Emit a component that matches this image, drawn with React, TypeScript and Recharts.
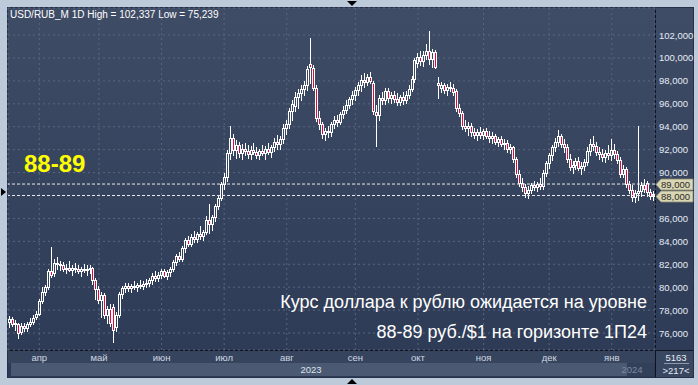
import React from 'react';
import { ComposedChart, Bar, XAxis, YAxis, CartesianGrid, ReferenceLine } from 'recharts';

// open, high, low, close
type Candle = [number, number, number, number];

const mar: Candle[] = [
  [77.0, 77.5, 76.5, 77.2], [77.2, 77.4, 76.6, 76.8], [76.8, 77.1, 76.3, 76.9], [76.8, 76.9, 75.6, 76.0],
  [76.1, 76.9, 75.9, 76.6], [76.6, 76.9, 76.2, 76.4], [76.4, 77.0, 76.2, 76.8], [76.8, 77.3, 76.6, 77.0],
  [77.0, 77.6, 76.8, 77.3], [77.4, 77.9, 77.2, 77.7],
];
const apr: Candle[] = [
  [77.7, 79.0, 77.6, 78.8], [78.8, 80.0, 78.6, 79.6], [79.6, 80.2, 79.3, 80.0], [80.0, 81.6, 79.8, 81.4],
  [81.4, 83.5, 80.9, 81.1], [81.2, 82.5, 81.0, 82.1], [82.1, 82.6, 81.6, 82.0], [82.0, 82.3, 81.5, 81.9],
  [81.9, 82.2, 81.4, 81.6], [81.6, 82.0, 81.2, 81.7], [81.7, 82.3, 81.4, 81.5], [81.5, 81.9, 81.1, 81.7],
  [81.7, 82.1, 81.3, 81.6], [81.6, 81.9, 81.2, 81.4], [81.4, 81.8, 81.0, 81.6], [81.6, 82.0, 81.3, 81.5],
  [81.5, 81.9, 81.1, 81.6], [81.6, 81.9, 81.2, 81.7], [81.7, 81.8, 80.3, 80.6], [80.6, 80.8, 79.0, 79.8],
];
const may: Candle[] = [
  [79.8, 80.1, 78.6, 78.9], [78.9, 79.6, 77.4, 79.3], [79.3, 79.5, 77.3, 77.6], [77.6, 78.4, 76.9, 78.1],
  [78.1, 78.5, 76.6, 76.9], [78.3, 78.5, 75.239, 76.3], [76.5, 77.8, 76.2, 77.6], [77.6, 79.6, 77.4, 79.4],
  [79.4, 80.1, 79.1, 79.9], [79.9, 80.4, 79.6, 80.1], [80.1, 80.4, 79.7, 79.9], [79.9, 80.3, 79.6, 80.1],
  [80.1, 80.5, 79.8, 80.0], [80.0, 80.4, 79.7, 80.2], [80.2, 80.6, 79.9, 80.1], [80.1, 80.5, 79.8, 80.3],
  [80.3, 80.7, 80.0, 80.4], [80.4, 80.8, 80.1, 80.6], [80.6, 81.2, 80.3, 81.0], [81.0, 81.4, 80.5, 80.8],
  [80.8, 81.3, 80.5, 81.1],
];
const jun: Candle[] = [
  [81.1, 81.6, 80.8, 81.4], [81.4, 81.6, 80.9, 81.0], [81.0, 81.5, 80.7, 81.3], [81.3, 81.8, 81.0, 81.6],
  [81.6, 82.4, 81.4, 82.2], [82.2, 82.9, 81.9, 82.7], [82.7, 83.1, 82.3, 82.5], [82.5, 83.6, 82.3, 83.4],
  [83.4, 84.3, 83.1, 84.1], [84.1, 84.5, 83.6, 83.8], [83.8, 84.6, 83.6, 84.4], [84.4, 84.9, 83.9, 84.2],
  [84.2, 84.8, 83.9, 84.6], [84.6, 85.3, 84.2, 84.5], [84.5, 85.0, 84.1, 84.8], [84.8, 86.2, 84.6, 85.9],
  [85.9, 87.3, 84.7, 85.5], [85.5, 86.3, 85.0, 86.1], [86.1, 87.3, 85.8, 87.1], [87.1, 88.0, 86.8, 87.8],
  [87.8, 89.2, 87.6, 89.0],
];
const jul: Candle[] = [
  [89.0, 90.0, 88.6, 89.6], [89.6, 92.0, 89.3, 91.7], [91.7, 94.1, 91.2, 93.0], [93.0, 93.4, 91.5, 92.0],
  [92.0, 92.8, 91.3, 92.4], [92.4, 92.7, 91.4, 91.7], [91.7, 92.5, 91.2, 92.1], [92.1, 92.6, 91.5, 91.9],
  [91.9, 92.4, 91.3, 91.6], [91.6, 92.3, 91.2, 92.0], [92.0, 92.6, 91.6, 91.8], [91.8, 92.2, 91.3, 91.5],
  [91.5, 92.1, 91.2, 91.9], [91.9, 92.4, 91.5, 91.7], [91.7, 92.3, 91.2, 92.1], [92.1, 92.6, 91.6, 91.8],
  [91.8, 92.4, 91.4, 92.2], [92.2, 93.0, 91.9, 92.7], [92.7, 93.3, 92.1, 92.5], [92.5, 93.2, 92.1, 92.9],
  [92.9, 94.2, 92.6, 93.9],
];
const aug: Candle[] = [
  [93.9, 94.6, 93.4, 94.2], [94.2, 95.6, 93.9, 95.4], [95.4, 96.3, 94.6, 96.0], [95.8, 97.0, 95.4, 96.6],
  [96.6, 97.3, 95.6, 96.9], [96.9, 97.6, 96.3, 97.3], [97.3, 98.0, 96.8, 97.6], [97.6, 99.3, 97.2, 99.0],
  [99.5, 101.7, 97.8, 99.2], [99.1, 99.4, 97.2, 97.4], [97.4, 97.6, 94.5, 94.8], [94.8, 95.4, 93.8, 94.2],
  [94.2, 94.4, 93.0, 93.4], [93.4, 93.9, 92.8, 93.6], [93.6, 94.1, 93.1, 93.5], [93.5, 94.4, 93.2, 94.2],
  [94.2, 94.9, 93.9, 94.6], [94.6, 95.0, 94.1, 94.4], [94.4, 95.3, 94.2, 95.1], [95.1, 95.8, 94.8, 95.5],
  [95.5, 96.3, 95.2, 95.9], [95.9, 96.6, 95.6, 96.4], [96.4, 97.1, 96.0, 96.8],
];
const sep: Candle[] = [
  [96.8, 97.5, 96.3, 97.2], [97.2, 97.9, 96.8, 97.6], [97.6, 98.5, 97.1, 98.1], [98.1, 98.7, 97.5, 97.9],
  [97.9, 98.6, 97.6, 98.3], [98.3, 98.8, 97.8, 98.0], [97.8, 98.0, 95.1, 95.4], [95.3, 95.9, 92.3, 95.0],
  [95.0, 96.8, 94.6, 96.5], [96.5, 97.0, 96.0, 96.3], [96.3, 97.4, 96.0, 97.1], [97.1, 97.4, 96.2, 96.5],
  [96.5, 97.0, 96.1, 96.8], [96.8, 97.1, 96.2, 96.4], [96.4, 96.9, 95.9, 96.2], [96.2, 96.8, 95.9, 96.6],
  [96.6, 97.0, 96.0, 96.3], [96.3, 97.1, 96.1, 96.8], [96.8, 97.6, 96.5, 97.3], [97.3, 98.4, 97.1, 98.2],
  [98.2, 100.0, 97.9, 99.8],
];
const oct: Candle[] = [
  [99.6, 100.4, 99.2, 100.1], [100.1, 100.6, 99.4, 99.7], [99.7, 100.6, 99.3, 100.3], [100.3, 101.2, 99.9, 100.6],
  [100.6, 102.337, 99.5, 99.9], [99.9, 100.8, 99.2, 100.5], [100.5, 100.7, 99.1, 99.2], [97.8, 98.3, 96.5, 97.6],
  [97.4, 97.9, 97.0, 97.6], [97.6, 97.8, 96.9, 97.2], [97.2, 97.7, 96.8, 97.5], [97.5, 97.9, 97.1, 97.4],
  [97.4, 97.7, 96.8, 97.0], [97.1, 97.3, 95.4, 95.6], [95.6, 96.0, 94.9, 95.2], [95.2, 95.4, 93.8, 94.1],
  [94.1, 94.6, 93.6, 93.9], [93.9, 94.4, 93.3, 94.1], [94.1, 94.3, 93.2, 93.5], [93.5, 93.9, 93.0, 93.3],
  [93.3, 93.8, 92.8, 93.5], [93.5, 94.0, 93.0, 93.3],
];
const nov: Candle[] = [
  [93.3, 93.8, 92.9, 93.6], [93.6, 93.9, 93.0, 93.2], [93.2, 93.6, 92.7, 93.0], [93.0, 93.5, 92.6, 93.2],
  [93.2, 93.4, 92.5, 92.7], [92.7, 93.1, 92.3, 92.9], [92.9, 93.2, 92.3, 92.5], [92.5, 92.9, 92.1, 92.6],
  [92.6, 92.8, 91.8, 92.1], [92.1, 92.5, 91.7, 92.2], [92.2, 92.3, 90.9, 91.2], [91.2, 91.4, 89.6, 89.9],
  [89.9, 90.2, 88.8, 89.1], [89.1, 89.5, 88.4, 88.7], [88.7, 89.0, 87.9, 88.2], [88.2, 88.8, 87.8, 88.5],
  [88.5, 89.1, 88.2, 88.9], [88.9, 89.3, 88.5, 88.7], [88.7, 89.2, 88.4, 89.0], [89.0, 89.5, 88.6, 88.8],
  [88.8, 90.2, 88.6, 90.0], [90.0, 91.0, 89.7, 90.8],
];
const dec: Candle[] = [
  [90.8, 91.7, 90.4, 91.5], [91.5, 92.4, 91.1, 92.2], [92.2, 93.0, 91.9, 92.7], [92.7, 93.7, 92.3, 93.2],
  [93.2, 93.4, 92.2, 92.5], [92.5, 92.9, 91.8, 92.2], [92.2, 92.5, 90.9, 91.2], [91.2, 91.6, 90.2, 90.5],
  [90.5, 91.0, 90.0, 90.7], [90.7, 91.3, 90.3, 91.0], [91.0, 91.4, 90.2, 90.4], [90.4, 90.9, 89.9, 90.6],
  [90.6, 91.2, 90.2, 90.9], [90.9, 92.2, 90.7, 91.9], [91.9, 92.9, 91.5, 92.5], [92.5, 93.2, 92.0, 92.3],
  [92.3, 92.7, 91.5, 91.8], [91.8, 92.2, 91.2, 91.6], [91.6, 92.1, 91.0, 91.4], [91.4, 92.0, 90.9, 91.7],
  [91.7, 92.4, 91.2, 91.5],
];
const jan: Candle[] = [
  [91.5, 92.9, 91.1, 92.0], [92.0, 92.5, 91.3, 91.6], [91.6, 91.9, 90.8, 91.1], [91.1, 91.4, 89.6, 89.9],
  [89.9, 90.7, 89.6, 90.3], [90.3, 90.5, 88.7, 89.0], [89.0, 89.3, 88.2, 88.5], [88.5, 88.9, 87.5, 87.9],
  [87.9, 88.5, 87.4, 88.2], [88.2, 94.1, 87.6, 88.4], [88.4, 89.2, 88.0, 88.9], [88.9, 89.4, 88.3, 88.6],
  [89.1, 89.3, 88.0, 88.3], [88.3, 88.6, 87.7, 88.0], [88.0, 88.4, 87.6, 88.1],
];

const monthLabels = ['апр', 'май', 'июн', 'июл', 'авг', 'сен', 'окт', 'ноя', 'дек', 'янв'];
const yTicks = [76, 78, 80, 82, 84, 86, 88, 90, 92, 94, 96, 98, 100, 102];
const levels = [89, 88];

const series = [mar, apr, may, jun, jul, aug, sep, oct, nov, dec, jan];
const rows = series.flat().map((c, i) => ({ i, o: c[0], h: c[1], l: c[2], c: c[3], range: [c[2], c[1]] }));
const monthStarts: number[] = [];
{
  let n = 0;
  series.forEach((m, k) => {
    if (k > 0) monthStarts.push(n);
    n += m.length;
  });
}

const RED = '#e3083c';
const FONT = 'Arial, "Liberation Sans", sans-serif';

const CandleShape = (props: any) => {
  const { x, y, width, height, payload } = props;
  if (x == null || y == null) return null;
  const top = Math.min(y, y + height);
  const bot = Math.max(y, y + height);
  const { o, h, l, c } = payload;
  const span = h - l || 1;
  const pix = (v: number) => top + ((h - v) / span) * (bot - top);
  const left = Math.round(x + width / 2 - 1.5);
  const wx = left + 1.5;
  const bt = Math.round(pix(Math.max(o, c)));
  const bb = Math.round(pix(Math.min(o, c)));
  const hy = Math.round(pix(h));
  const ly = Math.round(pix(l));
  const down = c < o;
  return (
    <g shapeRendering="crispEdges">
      {hy < bt && <line x1={wx} x2={wx} y1={hy} y2={bt} stroke="#fff" strokeWidth={1} />}
      {ly > bb && <line x1={wx} x2={wx} y1={bb + 1} y2={ly + 1} stroke="#fff" strokeWidth={1} />}
      {bb - bt < 1 ? (
        <rect x={left} y={bt} width={3} height={1} fill="#fff" />
      ) : (
        <rect x={left + 0.5} y={bt + 0.5} width={2} height={bb - bt} fill={down ? RED : 'none'} stroke="#fff" strokeWidth={1} />
      )}
    </g>
  );
};

const LevelTag = (props: any) => {
  const { viewBox, value } = props;
  if (!viewBox) return null;
  const y = Math.round(viewBox.y) + 0.5;
  const x0 = viewBox.x + viewBox.width + 1;
  return (
    <g>
      <polygon
        points={`${x0},${y} ${x0 + 5},${y - 5.5} ${x0 + 37},${y - 5.5} ${x0 + 37},${y + 5.5} ${x0 + 5},${y + 5.5}`}
        fill="#d9d6b6"
        stroke="#8d8a70"
        strokeWidth={0.8}
      />
      <text x={x0 + 5} y={y + 3.5} fontSize={9.5} fontFamily={FONT} fill="#2b2b22">
        {value}
      </text>
    </g>
  );
};

const fmt = (v: number) => v.toFixed(3).replace('.', ',');

export default function App() {
  return (
    <div style={{ position: 'relative', width: 698, height: 385, background: '#bccad9', overflow: 'hidden' }}>
      <style>{'body{margin:0}'}</style>
      {/* panel */}
      <div
        style={{
          position: 'absolute', left: 8, top: 8, width: 685, height: 369,
          background: 'linear-gradient(#3f4c66, #2d3a55)',
          boxShadow: '0 0 0 1px #26304a',
        }}
      />
      {/* bottom time rows */}
      <div style={{ position: 'absolute', left: 8, top: 351, width: 647, height: 12, background: '#37445e' }} />
      <div style={{ position: 'absolute', left: 11, top: 363, width: 616, height: 13, background: '#4b5973' }} />
      <div style={{ position: 'absolute', left: 627, top: 363, width: 27, height: 13, background: '#33405a' }} />
      <div style={{ position: 'absolute', left: 656, top: 351, width: 37, height: 26, background: '#3a4761' }} />
      {/* separators */}
      <div style={{ position: 'absolute', left: 655, top: 8, width: 1, height: 369, background: '#0e1322' }} />
      <div style={{ position: 'absolute', left: 8, top: 350, width: 685, height: 1, background: '#0e1322' }} />

      <div style={{ position: 'absolute', left: 0, top: 0 }}>
        <ComposedChart
          width={698}
          height={385}
          data={rows}
          margin={{ top: 8, right: 5, bottom: 5, left: 8 }}
          barCategoryGap={0}
        >
          <CartesianGrid stroke="#58667f" strokeDasharray="2 3" />
          <XAxis
            dataKey="i"
            type="category"
            ticks={monthStarts}
            interval={0}
            height={30}
            axisLine={false}
            tickLine={false}
            tick={(p: any) => (
              <text x={p.x} y={361} textAnchor="middle" fontSize={9.5} fontFamily={FONT} fill="#cfd8e3">
                {monthLabels[monthStarts.indexOf(p.payload.value)]}
              </text>
            )}
          />
          <YAxis
            orientation="right"
            width={38}
            domain={[74.52, 104.36]}
            ticks={yTicks}
            interval={0}
            allowDataOverflow
            axisLine={false}
            tickLine={false}
            tick={(p: any) =>
              levels.includes(p.payload.value) ? (
                <g />
              ) : (
                <text x={659} y={p.y + 3.5} fontSize={9.5} fontFamily={FONT} fill="#e4ecf6">
                  {fmt(p.payload.value)}
                </text>
              )
            }
          />
          {levels.map((v) => (
            <ReferenceLine
              key={v}
              y={v}
              stroke="#e8e8e8"
              strokeDasharray="3 2"
              ifOverflow="visible"
              label={<LevelTag value={fmt(v)} />}
            />
          ))}
          <Bar dataKey="range" shape={CandleShape} isAnimationActive={false} />
        </ComposedChart>
      </div>

      <svg width={698} height={385} style={{ position: 'absolute', left: 0, top: 0, pointerEvents: 'none' }}>
        <text x={10} y={18} fontSize={10} fontFamily={FONT} fill="#ffffff">
          USD/RUB_M 1D High = 102,337 Low = 75,239
        </text>
        <text x={24} y={172} fontSize={24} fontWeight="bold" fontFamily={FONT} fill="#ffff00">
          88-89
        </text>
        <text x={647} y={308} textAnchor="end" fontSize={18} fontFamily={FONT} fill="#ffffff">
          Курс доллара к рублю ожидается на уровне
        </text>
        <text x={647} y={338} textAnchor="end" fontSize={18} fontFamily={FONT} fill="#ffffff">
          88-89 руб./$1 на горизонте 1П24
        </text>
        <text x={311} y={373} textAnchor="middle" fontSize={9.5} fontFamily={FONT} fill="#dde5ee">
          2023
        </text>
        <text x={632} y={373} textAnchor="middle" fontSize={9.5} fontFamily={FONT} fill="#7c899f">
          2024
        </text>
        <text x={676} y={361} textAnchor="middle" fontSize={9.5} fontFamily={FONT} fill="#e4ecf6">
          5163
        </text>
        <line x1={664} x2={689} y1={363.5} y2={363.5} stroke="#8d99ad" strokeWidth={1} />
        <text x={676} y={374} textAnchor="middle" fontSize={9.5} fontFamily={FONT} fill="#e4ecf6">
          {'>217<'}
        </text>
        <polygon points="347,1 357,1 352,6" fill="#000" />
        <polygon points="347,384 357,384 352,379" fill="#000" />
        <polygon points="1,188 1,196 6,192" fill="#000" />
      </svg>
    </div>
  );
}
